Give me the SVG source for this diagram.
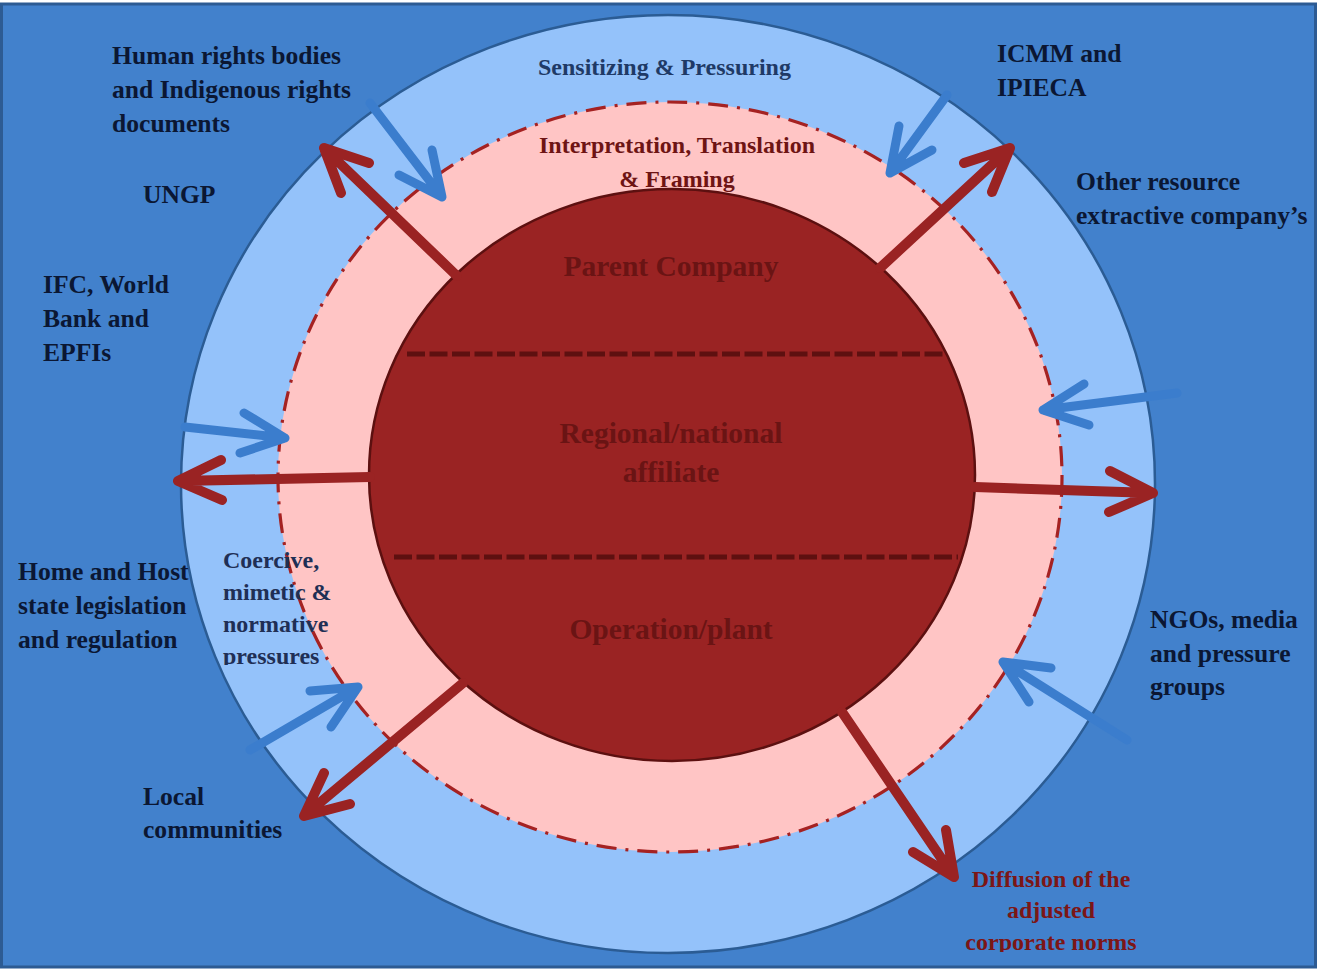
<svg xmlns="http://www.w3.org/2000/svg" width="1318" height="970" viewBox="0 0 1318 970">
<style>
  .lbl { font-family: "Liberation Serif", "Times New Roman", serif; font-weight: bold; font-size: 25.6px; fill: #0b1733; }
  .mid { font-family: "Liberation Serif", "Times New Roman", serif; font-weight: bold; font-size: 24px; }
  .core { font-family: "Liberation Serif", "Times New Roman", serif; font-weight: bold; font-size: 29.5px; fill: #6a1414; text-anchor: middle; }
  .red { fill: none; stroke: #9a2323; stroke-width: 10; stroke-linecap: round; stroke-linejoin: round; }
  .blue { fill: none; stroke: #3b7dcd; stroke-width: 9; stroke-linecap: round; stroke-linejoin: round; }
  .tier { fill: none; stroke: #5e1010; stroke-width: 5; stroke-dasharray: 18 4.5; }
</style>
<defs>
  <clipPath id="clipBottom"><rect x="0" y="0" width="1318" height="952"/></clipPath>
  <clipPath id="clipPress"><rect x="0" y="0" width="1318" height="665"/></clipPath>
</defs>
<rect x="1.5" y="4" width="1314" height="963" fill="#4281cc" stroke="#2d5b93" stroke-width="3"/>

<g id="outer-ring">
  <ellipse cx="668" cy="484" rx="487" ry="469" fill="#94c2fa" stroke="#2b5c94" stroke-width="2.5"/>
  <text class="mid" x="538" y="75" fill="#1f3a66">Sensitizing &amp; Pressuring</text>
</g>
<g id="middle-ring">
  <ellipse cx="670" cy="477" rx="392" ry="375" fill="#ffc5c5" stroke="#a52222" stroke-width="3.2" stroke-dasharray="20 9 3 9"/>
  <text class="mid" x="677" y="153" fill="#6e1414" text-anchor="middle">Interpretation, Translation</text>
  <text class="mid" x="677" y="187" fill="#6e1414" text-anchor="middle">&amp; Framing</text>
</g>
<g id="core">
  <ellipse cx="672" cy="475" rx="303" ry="286" fill="#9a2323" stroke="#5c1010" stroke-width="2.5"/>
  <line class="tier" x1="407" y1="354" x2="945" y2="354"/>
  <line class="tier" x1="394" y1="557" x2="958" y2="557"/>
  <text class="core" x="671" y="276">Parent Company</text>
  <text class="core" x="671" y="443">Regional/national</text>
  <text class="core" x="671" y="482">affiliate</text>
  <text class="core" x="671" y="639">Operation/plant</text>
</g>

<g id="connectors">
  <path class="red" d="M457,276 L324,148 M341,193 L324,148 L369,163"/>
  <path class="red" d="M880,268 L1010,148 M964,163 L1010,148 L992,192"/>
  <path class="red" d="M370,477 L178,481 M222,500 L178,481 L221,460"/>
  <path class="red" d="M975,487 L1153,493 M1110,471 L1153,493 L1109,512"/>
  <path class="red" d="M463,683 L304,816 M350,804 L304,816 L324,773"/>
  <path class="red" d="M842,712 L954,877 M946,830 L954,877 L913,852"/>
  <path class="blue" d="M370,103 L442,197 M432,150 L442,197 L399,175"/>
  <path class="blue" d="M947,95 L890,173 M932,150 L890,173 L899,126"/>
  <path class="blue" d="M185,427 L285,438 M244,413 L285,438 L240,453"/>
  <path class="blue" d="M1177,393 L1043,410 M1089,425 L1043,410 L1084,384"/>
  <path class="blue" d="M1127,740 L1003,662 M1029,702 L1003,662 L1051,668"/>
  <path class="blue" d="M250,750 L358,687 M310,691 L358,687 L331,727"/>
</g>

<g id="human-rights">
  <text class="lbl" x="112" y="64">Human rights bodies</text>
  <text class="lbl" x="112" y="98">and Indigenous rights</text>
  <text class="lbl" x="112" y="132">documents</text>
</g>
<g id="ungp"><text class="lbl" x="143" y="203">UNGP</text></g>
<g id="ifc">
  <text class="lbl" x="43" y="293">IFC, World</text>
  <text class="lbl" x="43" y="327">Bank and</text>
  <text class="lbl" x="43" y="361">EPFIs</text>
</g>
<g id="home-host">
  <text class="lbl" x="18" y="580">Home and Host</text>
  <text class="lbl" x="18" y="614">state legislation</text>
  <text class="lbl" x="18" y="648">and regulation</text>
</g>
<g id="local">
  <text class="lbl" x="143" y="805">Local</text>
  <text class="lbl" x="143" y="838">communities</text>
</g>
<g id="icmm">
  <text class="lbl" x="997" y="62">ICMM and</text>
  <text class="lbl" x="997" y="96">IPIECA</text>
</g>
<g id="other-companies">
  <text class="lbl" x="1076" y="190">Other resource</text>
  <text class="lbl" x="1076" y="224">extractive company’s</text>
</g>
<g id="ngos">
  <text class="lbl" x="1150" y="628">NGOs, media</text>
  <text class="lbl" x="1150" y="662">and pressure</text>
  <text class="lbl" x="1150" y="695">groups</text>
</g>
<g id="pressures" clip-path="url(#clipPress)">
  <text class="mid" x="223" y="568" fill="#1f2f55" font-size="23.5">Coercive,</text>
  <text class="mid" x="223" y="600" fill="#1f2f55" font-size="23.5">mimetic &amp;</text>
  <text class="mid" x="223" y="632" fill="#1f2f55" font-size="23.5">normative</text>
  <text class="mid" x="223" y="664" fill="#1f2f55" font-size="23.5">pressures</text>
</g>
<g id="diffusion" clip-path="url(#clipBottom)">
  <text class="mid" x="1051" y="887" fill="#7c1616" text-anchor="middle">Diffusion of the</text>
  <text class="mid" x="1051" y="918" fill="#7c1616" text-anchor="middle">adjusted</text>
  <text class="mid" x="1051" y="950" fill="#7c1616" text-anchor="middle">corporate norms</text>
</g>
</svg>
